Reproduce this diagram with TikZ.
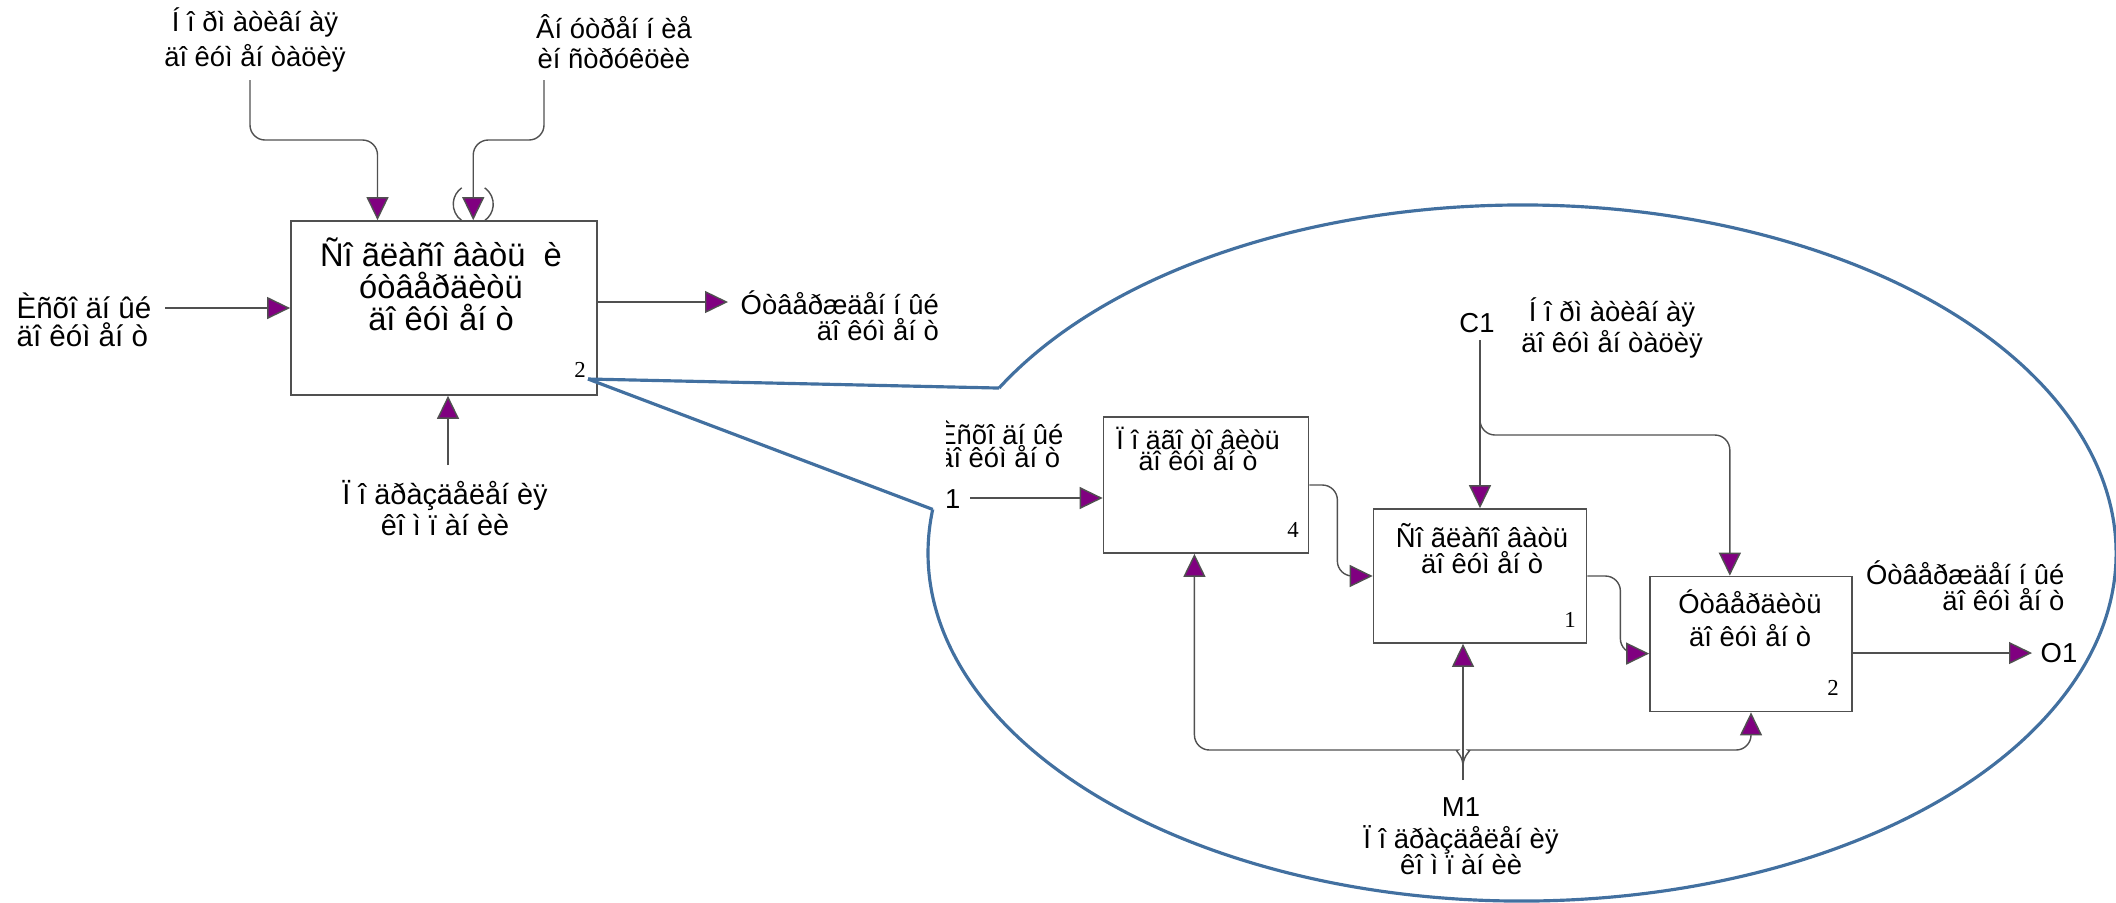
\documentclass[tikz,border=0pt]{standalone}
\usepackage{fontspec}
\setmainfont{Liberation Sans}
\newfontfamily\numfont{Liberation Serif}
\usetikzlibrary{arrows.meta,positioning,calc}
\definecolor{arrowpurple}{RGB}{128,0,128}
\definecolor{linegray}{RGB}{80,80,80}
\definecolor{zoomblue}{RGB}{66,112,160}

\tikzset{
  procbox/.style={draw=linegray, line width=.45pt, fill=white, inner sep=0pt},
  boxtext/.style={font=\fontsize{9.3}{9.1}\selectfont, align=center, inner sep=0pt, anchor=north},
  innertext/.style={font=\fontsize{7.8}{7.2}\selectfont, align=center, inner sep=0pt, anchor=north},
  boxnum/.style={font=\numfont\fontsize{6.5}{7}\selectfont, inner sep=0pt},
  arrowlabel/.style={font=\fontsize{7.8}{7.4}\selectfont, inner sep=0pt},
  flow/.style={draw=linegray, line width=.4pt, -{Triangle[length=.23cm,width=.22cm,fill=arrowpurple]}},
  zoomline/.style={draw=zoomblue, line width=.9pt},
}

\begin{document}
\begin{tikzpicture}[x=.01cm,y=-.01cm]
\useasboundingbox (0,0) rectangle (2116,902);

% parent block
\node[procbox, minimum width=3.06cm, minimum height=1.74cm] (A) at (444,308) {};
\node[boxtext] (Atext) at (441,237) {Ñî ãëàñî âàòü\ \ è\\óòâåðäèòü\\äî êóì åí ò};
\node[boxnum] (Anum) at (580,370) {2};

% input
\coordinate (inA) at (165,308);
\node[arrowlabel, font=\fontsize{8.4}{8}\selectfont, align=left, anchor=east] (inAlab) at (152,320) {Èñõî äí ûé\\äî êóì åí ò};
\draw[flow] (inA) -- (A.west);

% controls
\node[arrowlabel, align=center] (ctrlAlab) at (255,40) {Í î ðì àòèâí àÿ\\[1.2pt]äî êóì åí òàöèÿ};
\node[arrowlabel, align=center] (ctrlBlab) at (614,42) {Âí óòðåí í èå\\[1.2pt]èí ñòðóêöèè};
\coordinate (ctrlA) at (250,80);
\coordinate (ctrlB) at (544,80);
\draw[flow, rounded corners=.15cm] (ctrlA) -- ++(0,60) -| ($(A.north west)!.284!(A.north east)$);
\draw[flow, rounded corners=.15cm] (ctrlB) -- ++(0,60) -| ($(A.north west)!.595!(A.north east)$);
\coordinate (tunnel) at ($(A.north west)!.595!(A.north east)+(0,-16)$);
\draw[linegray, line width=.4pt] (tunnel) ++(125:20) arc[start angle=125, end angle=235, radius=20];
\draw[linegray, line width=.4pt] (tunnel) ++(-55:20) arc[start angle=-55, end angle=55, radius=20];

% output
\coordinate (outA) at (728,302);
\draw[flow] (A.east |- outA) -- (outA);
\node[arrowlabel, align=right, anchor=west] (outAlab) at (740,316) {Óòâåðæäåí í ûé\\äî êóì åí ò};

% mechanism
\coordinate (mechA) at (448,465);
\draw[flow] (mechA) -- (mechA |- A.south);
\node[arrowlabel, font=\fontsize{8.2}{8}\selectfont, align=center] (mechAlab) at (445,508) {Ï î äðàçäåëåí èÿ\\[1pt]êî ì ï àí èè};

% zoom outline
\coordinate (zoomfrom) at (588,379);
\coordinate (ellc) at (1522,553);
\draw[zoomline] (zoomfrom) -- ($(ellc)+(208.3:594 and 348)$);
\draw[zoomline] (zoomfrom) -- ($(ellc)+(187.2:594 and 348)$);
\draw[zoomline] (ellc) ++(208.3:594 and 348) arc[start angle=208.3, end angle=547.2, x radius=594, y radius=348];

% decomposition
\node[procbox, minimum width=2.05cm, minimum height=1.36cm] (B4) at (1206,485) {};
\node[innertext, font=\fontsize{7.6}{7.2}\selectfont] (B4text) at (1198,426) {Ï î äãî òî âèòü\\[-1pt]äî êóì åí ò};
\node[boxnum] (B4num) at (1293,530) {4};

\node[procbox, minimum width=2.13cm, minimum height=1.34cm] (B1) at (1480,576) {};
\node[innertext] (B1text) at (1482,523) {Ñî ãëàñî âàòü\\äî êóì åí ò};
\node[boxnum] (B1num) at (1570,620) {1};

\node[procbox, minimum width=2.02cm, minimum height=1.35cm] (B2) at (1751,644) {};
\node[innertext] (B2text) at (1750,589) {Óòâåðäèòü\\[2.2pt]äî êóì åí ò};
\node[boxnum] (B2num) at (1833,688) {2};

\begin{scope}
\clip (946,400) rectangle (1100,520);
\node[arrowlabel, align=left, anchor=east] (inBlab) at (1064,444) {Èñõî äí ûé\\[-1pt]äî êóì åí ò};
\node[arrowlabel, anchor=east] (inBname) at (961,499) {I1};
\end{scope}
\coordinate (inB) at (970,498);
\draw[flow] (inB) -- (inB -| B4.west);

\draw[flow, rounded corners=.15cm] (B4.east) -- ++(28,0) |- (B1.west);
\draw[flow, rounded corners=.15cm] (B1.east) -- ++(33,0) |- ($(B2.north west)!.57!(B2.south west)$);

\coordinate (outB) at (2032,653);
\draw[flow] (B2.east |- outB) -- (outB);
\node[arrowlabel, anchor=west] (outBname) at (2040,653) {O1};
\node[arrowlabel, align=right, anchor=east] (outBlab) at (2065,586) {Óòâåðæäåí í ûé\\äî êóì åí ò};

\node[arrowlabel] (ctrlCname) at (1477,323) {C1};
\node[arrowlabel, align=center] (ctrlClab) at (1612,328) {Í î ðì àòèâí àÿ\\äî êóì åí òàöèÿ};
\coordinate (ctrlC) at (1480,340);
\draw[flow] (ctrlC) -- (ctrlC |- B1.north);
\coordinate (ctrlCfork) at (1480,415);
\draw[flow, rounded corners=.15cm] (ctrlCfork) -- ++(0,20) -| ($(B2.north west)!.396!(B2.north east)$);

\node[arrowlabel] (mechCname) at (1461,807) {M1};
\node[arrowlabel, align=center] (mechClab) at (1461,850) {Ï î äðàçäåëåí èÿ\\êî ì ï àí èè};
\coordinate (mechC) at (1463,780);
\draw[flow] (mechC) -- (mechC |- B1.south);
\coordinate (fork) at (1463,766);
\draw[flow, rounded corners=.15cm] (fork) .. controls +(0,-12) and +(-10,0) .. ++(20,-16) -| (B2.south);
\draw[flow, rounded corners=.15cm] (fork) .. controls +(0,-12) and +(10,0) .. ++(-20,-16) -| ($(B4.south west)!.444!(B4.south east)$);
\end{tikzpicture}
\end{document}
